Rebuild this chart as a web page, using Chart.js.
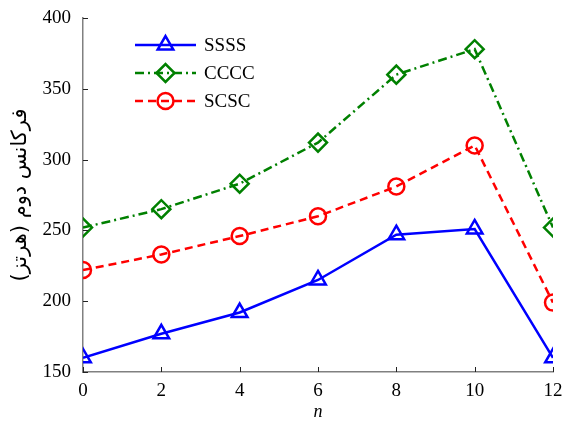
<!DOCTYPE html>
<html><head><meta charset="utf-8">
<script src="https://cdn.jsdelivr.net/npm/chart.js@4/dist/chart.umd.min.js"></script>
<style>html,body{margin:0;padding:0;background:#fff}#w{width:569px;height:425px}</style>
</head><body><div id="w"><canvas id="c"></canvas></div>
<script>
const categories = [0, 2, 4, 6, 8, 10, 12];
const ssss = [160, 177, 192, 215, 247, 251, 160];
const cccc = [252, 265, 283, 312, 360, 378, 252];
const scsc = [222, 233, 246, 260, 281, 310, 199];
const seriesNames = ['SSSS', 'CCCC', 'SCSC'];
const yTicks = [150, 200, 250, 300, 350, 400];
const xTitle = 'n';
const yTitle = 'فرکانس دوم (هرتز)';

const serif = '"Liberation Serif", "DejaVu Serif", serif';

const innerTicks = {
  id: 'innerTicks',
  afterDatasetsDraw(chart) {
    const ctx = chart.ctx, a = chart.chartArea;
    const xs = chart.scales.x, ys = chart.scales.y;
    ctx.save();
    ctx.strokeStyle = '#222';
    ctx.lineWidth = 1;
    ctx.beginPath();
    categories.forEach(v => { const p = Math.round(xs.getPixelForValue(v)) + 0.5; ctx.moveTo(p, a.bottom); ctx.lineTo(p, a.bottom - 5); });
    yTicks.forEach(v => { const p = Math.round(ys.getPixelForValue(v)) + 0.5; ctx.moveTo(a.left, p); ctx.lineTo(a.left + 5, p); });
    ctx.stroke();
    // legend
    const rows = [45, 73, 101];
    chart.data.datasets.forEach((ds, i) => {
      const y = rows[i];
      ctx.save();
      ctx.strokeStyle = ds.borderColor;
      ctx.lineWidth = ds.borderWidth;
      ctx.setLineDash(ds.borderDash || []);
      ctx.beginPath(); ctx.moveTo(135, y); ctx.lineTo(196, y); ctx.stroke();
      ctx.setLineDash([]);
      ctx.fillStyle = 'rgba(0,0,0,0)';
      ctx.strokeStyle = ds.borderColor;
      ctx.lineWidth = ds.pointBorderWidth;
      Chart.helpers.drawPoint(ctx, {pointStyle: ds.pointStyle, radius: ds.pointRadius, borderWidth: ds.pointBorderWidth, rotation: 0}, 165.5, y);
      ctx.restore();
      ctx.fillStyle = '#000';
      ctx.font = '19px ' + serif;
      ctx.textBaseline = 'middle';
      ctx.fillText(ds.label, 204, y + 1);
    });
    ctx.restore();
  }
};

new Chart(document.getElementById('c'), {
  type: 'line',
  data: {
    labels: categories,
    datasets: [
      {label: seriesNames[0], data: ssss, borderColor: '#0000ff', pointBorderColor: '#0000ff', backgroundColor: 'rgba(0,0,0,0)', pointBackgroundColor: 'rgba(0,0,0,0)', borderWidth: 2.5, pointStyle: 'triangle', pointRadius: 9, pointBorderWidth: 2.5},
      {label: seriesNames[1], data: cccc, borderColor: '#008000', pointBorderColor: '#008000', backgroundColor: 'rgba(0,0,0,0)', pointBackgroundColor: 'rgba(0,0,0,0)', borderWidth: 2.5, borderDash: [9, 4, 2, 4], pointStyle: 'rectRot', pointRadius: 9, pointBorderWidth: 2.5},
      {label: seriesNames[2], data: scsc, borderColor: '#ff0000', pointBorderColor: '#ff0000', backgroundColor: 'rgba(0,0,0,0)', pointBackgroundColor: 'rgba(0,0,0,0)', borderWidth: 2.5, borderDash: [8, 5], pointStyle: 'circle', pointRadius: 8, pointBorderWidth: 2.5}
    ]
  },
  options: {
    responsive: true, maintainAspectRatio: false, animation: false,
    layout: {padding: {left: 0, right: 16, top: 18, bottom: 0}},
    plugins: {legend: {display: false}, tooltip: {enabled: false}},
    elements: {line: {tension: 0, fill: false}},
    scales: {
      x: {
        type: 'linear', min: 0, max: 12,
        afterBuildTicks: s => { s.ticks = categories.map(v => ({value: v})); },
        afterFit: s => { s.height = 53; s.paddingLeft = 0; s.paddingRight = 0; },
        grid: {display: true, drawOnChartArea: false, drawTicks: false},
        border: {display: true, color: '#808080', width: 1.5},
        ticks: {color: '#000', font: {family: serif, size: 19}, padding: 8, maxRotation: 0},
        title: {display: true, text: xTitle, color: '#000', font: {family: serif, size: 18, style: 'italic'}, padding: {top: 0, bottom: 2}}
      },
      y: {
        min: 150, max: 400,
        afterBuildTicks: s => { s.ticks = yTicks.map(v => ({value: v})); },
        afterFit: s => { s.width = 83; s.paddingTop = 0; s.paddingBottom = 0; },
        grid: {display: true, drawOnChartArea: false, drawTicks: false},
        border: {display: true, color: '#808080', width: 1.5},
        ticks: {color: '#000', font: {family: serif, size: 19}, padding: 12},
        title: {display: true, text: yTitle, color: '#000', font: {family: '"DejaVu Sans", sans-serif', size: 21}, padding: {top: 8, bottom: 0}}
      }
    }
  },
  plugins: [innerTicks]
});
</script>
</body></html>
